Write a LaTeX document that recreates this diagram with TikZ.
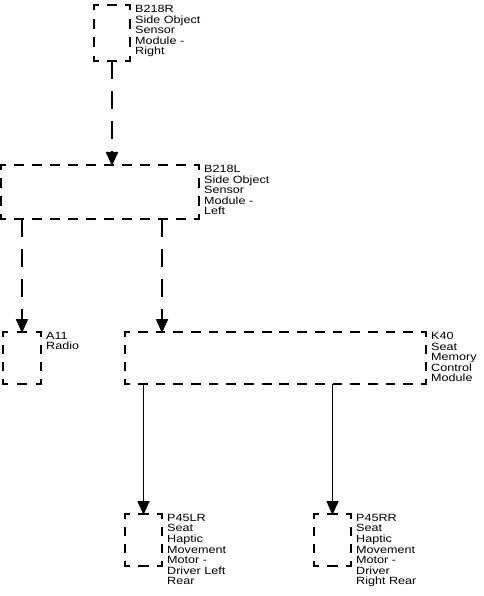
\documentclass[tikz,border=0pt]{standalone}
\usepackage{fontspec}
\setmainfont{Liberation Sans}[FakeStretch=1.2]
\usetikzlibrary{positioning, arrows.meta, calc}

% dashed edge that starts and ends with half a dash
\newcommand{\dashedge}[2]{%
  \begin{scope}
  \draw[line width=2pt, line cap=rect] let \p1=(#1), \p2=(#2) in
    \pgfextra{%
      \pgfmathsetmacro\edgelen{veclen(\x2-\x1,\y2-\y1)}%
      \pgfmathsetmacro\edgecount{max(1,round(\edgelen/18))}%
      \pgfmathsetmacro\edgeper{\edgelen/\edgecount}%
      \pgfmathsetmacro\edgeon{0.55*\edgeper-2}%
      \pgfmathsetmacro\edgeoff{0.45*\edgeper+2}%
      \pgfmathsetmacro\edgephase{0.275*\edgeper-1}%
      \pgfsetdash{{\edgeon pt}{\edgeoff pt}}{\edgephase pt}}
    (#1) -- (#2);
  \end{scope}}
\newcommand{\dashframe}[1]{%
  \dashedge{#1.north west}{#1.north east}
  \dashedge{#1.north east}{#1.south east}
  \dashedge{#1.south east}{#1.south west}
  \dashedge{#1.south west}{#1.north west}}

\begin{document}
\begin{tikzpicture}[
  x=1pt, y=-1pt,
  unit/.style={rectangle, inner sep=0pt, outer sep=0pt},
  tag/.style={align=left, inner sep=0pt, text=black,
    font=\fontsize{10.5}{10.55}\selectfont},
  link/.style={-{Triangle[length=14pt, width=12pt]}, line width=2.2pt,
    dash pattern=on 18pt off 12pt, shorten >=-1pt},
  wire/.style={-{Triangle[length=14pt, width=12pt]}, line width=1.6pt,
    solid, shorten >=-1pt}
]
\useasboundingbox (0,0) rectangle (483,596);

\node[unit, minimum width=36pt, minimum height=56pt] (sR) at (112,33) {};
\node[tag, right=5pt of sR.north east, anchor=north west] (sRt)
  {B218R\\Side Object\\Sensor\\Module -\\Right};

\node[unit, minimum width=198pt, minimum height=54pt] (sL) at (100,192) {};
\node[tag, right=5pt of sL.north east, anchor=north west] (sLt)
  {B218L\\Side Object\\Sensor\\Module -\\Left};

\node[unit, minimum width=38pt, minimum height=52pt] (radio) at (22,358) {};
\node[tag, right=5pt of radio.north east, anchor=north west] (radiot)
  {A11\\Radio};

\node[unit, minimum width=301pt, minimum height=52pt] (seat) at (275.5,358) {};
\node[tag, right=5pt of seat.north east, anchor=north west] (seatt)
  {K40\\Seat\\Memory\\Control\\Module};

\node[unit, minimum width=37pt, minimum height=52pt] (motL) at (143.5,540) {};
\node[tag, right=5pt of motL.north east, anchor=north west] (motLt)
  {P45LR\\Seat\\Haptic\\Movement\\Motor -\\Driver Left\\Rear};

\node[unit, minimum width=37pt, minimum height=52pt] (motR) at (332.5,540) {};
\node[tag, right=5pt of motR.north east, anchor=north west] (motRt)
  {P45RR\\Seat\\Haptic\\Movement\\Motor -\\Driver\\Right Rear};

\dashframe{sR}
\dashframe{sL}
\dashframe{radio}
\dashframe{seat}
\dashframe{motL}
\dashframe{motR}

% serial data
\draw[link] (sR.south) -- (sR.south |- sL.north);
\draw[link] (radio.north |- sL.south) -- (radio.north);
\draw[link] ([xshift=62pt]sL.south) -- ([xshift=62pt]sL.south |- seat.north);

% motor outputs
\draw[wire] (seat.south -| motL) -- (motL.north);
\draw[wire] (seat.south -| motR) -- (motR.north);
\end{tikzpicture}
\end{document}
